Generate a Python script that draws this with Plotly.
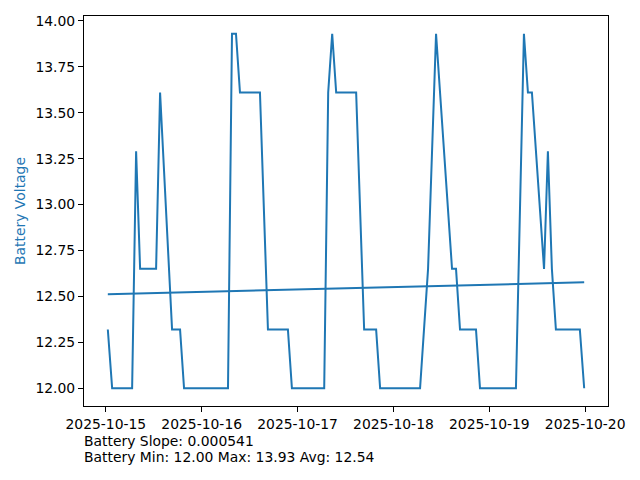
import pandas as pd
import plotly.graph_objects as go

# Battery voltage readings (vertices of the series)
times = [
    "2025-10-15 00:30", "2025-10-15 01:35", "2025-10-15 06:35", "2025-10-15 07:35",
    "2025-10-15 08:35", "2025-10-15 12:35", "2025-10-15 13:35", "2025-10-15 16:35",
    "2025-10-15 18:35", "2025-10-15 19:35", "2025-10-16 06:35", "2025-10-16 07:35",
    "2025-10-16 08:35", "2025-10-16 09:35", "2025-10-16 14:35", "2025-10-16 16:35",
    "2025-10-16 21:35", "2025-10-16 22:35", "2025-10-17 06:40", "2025-10-17 07:40",
    "2025-10-17 08:40", "2025-10-17 09:40", "2025-10-17 14:40", "2025-10-17 16:40",
    "2025-10-17 19:40", "2025-10-17 20:40", "2025-10-18 06:40", "2025-10-18 08:40",
    "2025-10-18 10:40", "2025-10-18 14:40", "2025-10-18 15:40", "2025-10-18 16:40",
    "2025-10-18 20:40", "2025-10-18 21:40", "2025-10-19 06:40", "2025-10-19 08:40",
    "2025-10-19 09:40", "2025-10-19 10:40", "2025-10-19 13:42", "2025-10-19 14:40",
    "2025-10-19 15:40", "2025-10-19 16:40", "2025-10-19 22:40", "2025-10-19 23:45",
]
voltage = [
    12.32, 12.00, 12.00, 13.29,
    12.65, 12.65, 13.61, 12.32,
    12.32, 12.00, 12.00, 13.93,
    13.93, 13.61, 13.61, 12.32,
    12.32, 12.00, 12.00, 13.61,
    13.93, 13.61, 13.61, 12.32,
    12.32, 12.00, 12.00, 12.65,
    13.93, 12.65, 12.65, 12.32,
    12.32, 12.00, 12.00, 13.93,
    13.61, 13.61, 12.65, 13.29,
    12.65, 12.32, 12.32, 12.00,
]

# Linear trend endpoints (slope 0.000541 per hour)
trend_values = [12.512, 12.577]

y_ticks = [12.00, 12.25, 12.50, 12.75, 13.00, 13.25, 13.50, 13.75, 14.00]
x_ticks = ["2025-10-15", "2025-10-16", "2025-10-17", "2025-10-18", "2025-10-19", "2025-10-20"]

slope_text = "Battery Slope: 0.000541"
stats_text = "Battery Min: 12.00 Max: 13.93 Avg: 12.54"

t = pd.to_datetime(times)
color = "#1f77b4"

fig = go.Figure()
fig.add_trace(go.Scatter(x=t, y=voltage, mode="lines",
                         line=dict(color=color, width=2), showlegend=False))
fig.add_trace(go.Scatter(x=[t[0], t[-1]], y=trend_values, mode="lines",
                         line=dict(color=color, width=2), showlegend=False))

# 5% padding like matplotlib
x0, x1 = t[0], t[-1]
xpad = (x1 - x0) * 0.05
vmin, vmax = min(voltage), max(voltage)
ypad = (vmax - vmin) * 0.05

font = dict(family="DejaVu Sans", size=13.9, color="black")

# page body has an 8px margin, so the figure is offset by 8px
fig.update_layout(
    width=624, height=464,
    margin=dict(l=76, r=24, t=8, b=66, autoexpand=False),
    plot_bgcolor="white", paper_bgcolor="white",
    font=font,
    xaxis=dict(
        range=[x0 - xpad, x1 + xpad],
        tickvals=pd.to_datetime(x_ticks), ticktext=x_ticks,
        showgrid=False, zeroline=False, automargin=False,
        showline=True, linecolor="black", linewidth=1, mirror=True,
        ticks="outside", ticklen=5, tickcolor="black", tickwidth=1,
        tickfont=font,
    ),
    yaxis=dict(
        range=[vmin - ypad, vmax + ypad],
        tickvals=y_ticks, ticktext=[f"{v:.2f}" for v in y_ticks],
        showgrid=False, zeroline=False, automargin=False,
        showline=True, linecolor="black", linewidth=1, mirror=True,
        ticks="outside", ticklen=5, tickcolor="black", tickwidth=1,
        tickfont=font,
        title=dict(text="Battery Voltage", font=dict(family="DejaVu Sans", size=13.9, color=color),
                   standoff=6),
    ),
    annotations=[
        dict(text=slope_text, xref="paper", yref="paper", x=0, y=-(441 - 406) / 390,
             xanchor="left", yanchor="middle", showarrow=False, font=font, xshift=-2),
        dict(text=stats_text, xref="paper", yref="paper", x=0, y=-(457 - 406) / 390,
             xanchor="left", yanchor="middle", showarrow=False, font=font, xshift=-2),
    ],
)

fig.write_html("out.html")
